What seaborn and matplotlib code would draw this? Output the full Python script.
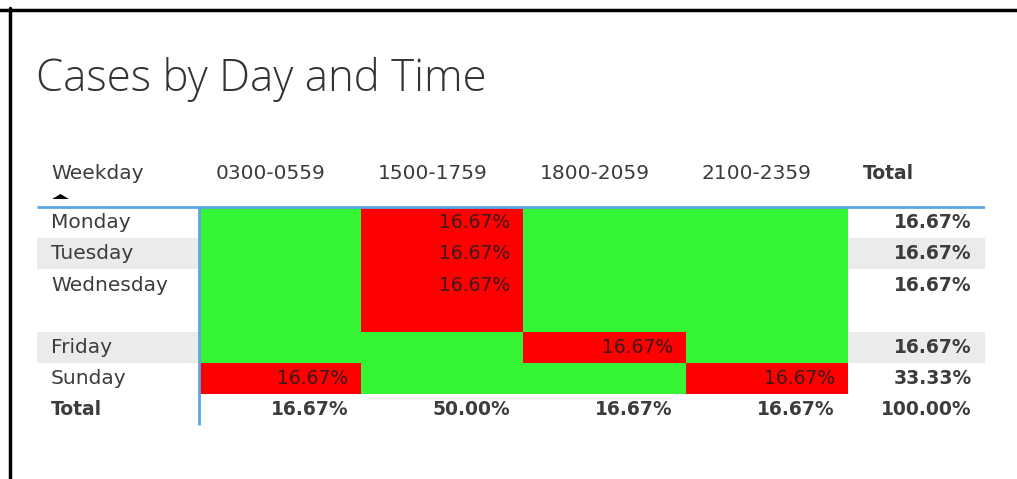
import numpy as np
import pandas as pd
import matplotlib
matplotlib.use("Agg")
import matplotlib.pyplot as plt
from matplotlib.colors import ListedColormap
from matplotlib.lines import Line2D
import seaborn as sns

# -----------------------------
# DATA
# -----------------------------
weekdays = ["Monday", "Tuesday", "Wednesday", "Friday", "Sunday"]
time_slots = ["0300-0559", "1500-1759", "1800-2059", "2100-2359"]
monday = [0.0, 16.67, 0.0, 0.0]
tuesday = [0.0, 16.67, 0.0, 0.0]
wednesday = [0.0, 16.67, 0.0, 0.0]
friday = [0.0, 0.0, 16.67, 0.0]
sunday = [16.67, 0.0, 0.0, 16.67]
row_totals = [16.67, 16.67, 16.67, 16.67, 33.33]
col_totals = [16.67, 50.00, 16.67, 16.67]
grand_total = 100.00

title = "Cases by Day and Time"

# -----------------------------
# LAYOUT / STYLE
# -----------------------------
row_units = [1, 1, 2, 1, 1]          # Wednesday row is double height
green = "#35f535"
red = "#ff0000"
band = "#ebebeb"
blue = "#5aa6e6"
txt = "#3c3c3c"
fs = 14.5
fs_bold = 13.5

values = pd.DataFrame([monday, tuesday, wednesday, friday, sunday],
                      index=weekdays, columns=time_slots)
flags = (values > 0).astype(int)
grid = pd.DataFrame(np.repeat(flags.values, row_units, axis=0), columns=time_slots)

sns.set_style("white")
plt.rcParams["font.family"] = ["DejaVu Sans"]

fig = plt.figure(figsize=(10.17, 4.79), dpi=100)
ax = fig.add_axes([37 / 1017, (479 - 430) / 479, 948 / 1017, 280 / 479])

sns.heatmap(grid, ax=ax, cmap=ListedColormap([green, red]), vmin=0, vmax=1,
            cbar=False, linewidths=0, zorder=2)

ax.set_xlim(-1, 4.846)
ax.set_ylim(7.15, -1.83)
ax.set_xticks([])
ax.set_yticks([])
for s in ax.spines.values():
    s.set_visible(False)

# row tops
tops = np.concatenate([[0], np.cumsum(row_units)[:-1]])
n_units = sum(row_units)

# banding
for i, y0 in enumerate(tops):
    if i % 2 == 1:
        ax.axhspan(y0, y0 + row_units[i], color=band, zorder=0, lw=0)

# header
ax.text(-0.913, -1.09, "Weekday", ha="left", va="center", fontsize=fs, color=txt)
ax.plot([-0.86], [-0.37], marker=[(-1, -0.3), (1, -0.3), (0, 0.3), (-1, -0.3)],
        color="black", markersize=12, markeredgewidth=0, zorder=3, lw=0)
for j, slot in enumerate(time_slots):
    ax.text(j + 0.1, -1.09, slot, ha="left", va="center", fontsize=fs, color=txt)
ax.text(4.09, -1.09, "Total", ha="left", va="center", fontsize=fs_bold,
        color=txt, fontweight="bold")

# body
for i, day in enumerate(weekdays):
    yc = tops[i] + 0.5
    ax.text(-0.913, yc, day, ha="left", va="center", fontsize=fs, color=txt)
    for j, slot in enumerate(time_slots):
        v = values.loc[day, slot]
        if v > 0:
            ax.text(j + 0.92, yc, f"{v:.2f}%", ha="right", va="center",
                    fontsize=13.5, color="#3a1a1a", zorder=4)
    ax.text(4.765, yc, f"{row_totals[i]:.2f}%", ha="right", va="center",
            fontsize=fs_bold, color=txt, fontweight="bold")

# total row
yt = n_units + 0.5
ax.text(-0.913, yt, "Total", ha="left", va="center", fontsize=fs_bold,
        color=txt, fontweight="bold")
for j, v in enumerate(col_totals):
    ax.text(j + 0.92, yt, f"{v:.2f}%", ha="right", va="center", fontsize=fs_bold,
            color=txt, fontweight="bold")
ax.text(4.765, yt, f"{grand_total:.2f}%", ha="right", va="center", fontsize=fs_bold,
        color=txt, fontweight="bold")

# blue rules
ax.plot([-1, 4.846], [0, 0], color=blue, lw=2, zorder=5, solid_capstyle="butt")
ax.plot([0, 0], [0, n_units + 1], color=blue, lw=2, zorder=5, solid_capstyle="butt")

# title
fig.text(36 / 1017, 1 - 79 / 479, title, ha="left", va="center", fontsize=31.5,
         color="#333333", family=["Open Sans", "DejaVu Sans"], fontweight="light")

# frame
fig.add_artist(Line2D([0, 1], [1 - 9.5 / 479] * 2, color="black", lw=2.5))
fig.add_artist(Line2D([9.5 / 1017] * 2, [0, 1 - 8 / 479], color="black", lw=2.5))

plt.savefig("out.png", dpi=100)
